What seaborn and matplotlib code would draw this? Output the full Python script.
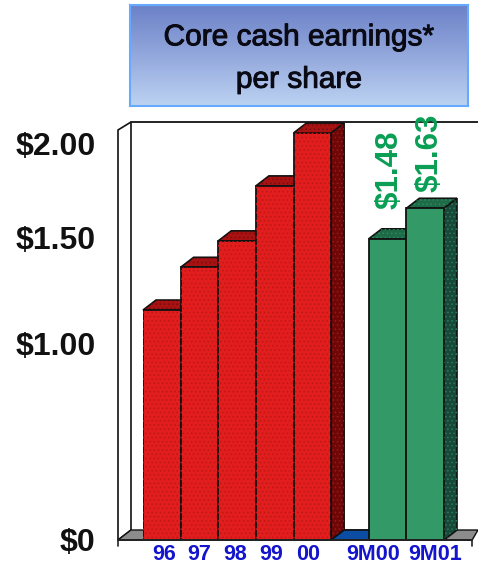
import numpy as np
import pandas as pd
import matplotlib
matplotlib.use("Agg")
import matplotlib.pyplot as plt
import matplotlib.patheffects as pe
from matplotlib.patches import Polygon
from matplotlib.colors import LinearSegmentedColormap
import seaborn as sns

# Data
periods = ["96", "97", "98", "99", "00", " ", "9M00", "9M01"]
earnings = [1.13, 1.34, 1.47, 1.74, 2.00, 0.0, 1.48, 1.63]
tick_labels = ["96", "97", "98", "99", "00", "9M00", "9M01"]
value_labels = ["$1.48", "$1.63"]
value_periods = ["9M00", "9M01"]
axis_labels = ["$0", "$1.00", "$1.50", "$2.00"]

W, H = 478, 570
RED = ("#e21d1d", "#a81212", "#6e0808")
GREEN = ("#339966", "#1e6b48", "#17493a")
BLUE = ("#0a4da3", "#0a4da3", "#0a4da3")
bar_styles = [RED] * 5 + [BLUE] + [GREEN] * 2

# plot area in pixels of the image
X0, X1 = 143, 444
Y0, Y2 = 540, 133
SLOT = (X1 - X0) / len(periods)
UNIT = (Y0 - Y2) / 2.0
DX, DY = 13 / SLOT, 10 / UNIT


def px_x(p):
    return (p - X0) / SLOT - 0.5


def px_y(p):
    return (Y0 - p) / UNIT


sns.set_theme(style="white")
plt.rcParams["font.family"] = ["Liberation Sans", "DejaVu Sans"]
plt.rcParams["hatch.linewidth"] = 0.6

fig = plt.figure(figsize=(W / 100, H / 100), dpi=100)
ax = fig.add_axes([X0 / W, 1 - Y0 / H, (X1 - X0) / W, (Y0 - Y2) / H])

df = pd.DataFrame({"period": periods, "earnings": earnings})
sns.barplot(data=df, x="period", y="earnings", hue="period", order=periods,
            palette=[s[0] for s in bar_styles], width=1.0, saturation=1,
            legend=False, edgecolor="#111111", linewidth=1.3, zorder=4, ax=ax)
ax.set_xlim(-0.5, len(periods) - 0.5)
ax.set_ylim(0, 2.0)
ax.set_xlabel("")
ax.set_ylabel("")
sns.despine(ax=ax, left=True, bottom=True)


def poly(points, face, edge="#111111", lw=1.2, z=2, dots=None):
    ax.add_patch(Polygon(points, closed=True, facecolor=face, edgecolor=edge,
                         linewidth=lw, zorder=z, clip_on=False))
    if dots:
        # dither texture of the source image
        ax.add_patch(Polygon(points, closed=True, facecolor="none", edgecolor=dots,
                             linewidth=0, hatch="....", zorder=z, clip_on=False))


# walls and floor
left, right = px_x(118), px_x(472)
poly([(left, 0), (left + DX, DY), (left + DX, px_y(122)), (left, px_y(130))],
     "white", z=1)
ax.plot([left + DX, px_x(478)], [px_y(122)] * 2, color="#222222", lw=1.4,
        clip_on=False, zorder=1)
poly([(left, 0), (left + DX, DY), (px_x(478), DY), (px_x(478) - DX * 0.45, 0)],
     "#8c8c8c", lw=1.0, z=1)
ax.plot([left, right], [0, 0], color="#222222", lw=1.4, clip_on=False, zorder=5)
ax.plot([left, left], [0, px_y(546)], color="#222222", lw=1.2, clip_on=False, zorder=5)
ax.plot([right, right], [0, px_y(546)], color="#222222", lw=1.2, clip_on=False, zorder=5)

# depth faces taken from the bars seaborn drew
bars = [b for b in ax.patches if isinstance(b, matplotlib.patches.Rectangle)]
bars = sorted(bars, key=lambda b: b.get_x())[:len(periods)]
for bar, style in zip(bars, bar_styles):
    x0, x1, top = bar.get_x(), bar.get_x() + bar.get_width(), bar.get_height()
    is_red = style is RED
    is_green = style is GREEN
    poly([(x0, top), (x0 + DX, top + DY), (x1 + DX, top + DY), (x1, top)], style[1], z=3,
         dots="#7d0c0c" if is_red else ("#2f8a5c" if is_green else None))
    if top > 0:
        poly([(x1, 0), (x1 + DX, DY), (x1 + DX, top + DY), (x1, top)], style[2], z=3,
             dots="#a81414" if is_red else "#2f7a58")
    if is_red:
        ax.add_patch(Polygon([(x0, 0), (x0, top), (x1, top), (x1, 0)], closed=True,
                             facecolor="none", edgecolor="#c01616", linewidth=0,
                             hatch="....", zorder=4.5))

# value labels above the green bars
for name, text, lift, shift in zip(value_periods, value_labels, [30, 16], [2.5, 4]):
    i = periods.index(name)
    ax.annotate(text, (i, earnings[i]), xytext=(shift * 0.72, lift * 0.72),
                textcoords="offset points", rotation=90, ha="center", va="bottom",
                color="#0a9f55", fontsize=22.5, fontweight="bold",
                annotation_clip=False, zorder=6)

# axis labels are printed at their own places in the source chart
ax.set_xticks([px_x(p) for p in [164, 199, 235, 271, 308, 373, 435]], tick_labels)
ax.set_yticks([px_y(p) for p in [540, 344, 238, 144]], axis_labels)
ax.tick_params(axis="x", length=0, pad=3, labelsize=15.5, labelcolor="#1414cc")
ax.tick_params(axis="y", length=0, pad=34, labelsize=23, labelcolor="#111111")
for lab in ax.get_xticklabels() + ax.get_yticklabels():
    lab.set_fontweight("bold")

# title box
tx = fig.add_axes([130 / W, 1 - 106 / H, 338 / W, 101 / H])
cmap = LinearSegmentedColormap.from_list("box", ["#6c82c8", "#93a8dc", "#bcd2f2"])
tx.imshow(np.linspace(0, 1, 64)[:, None], cmap=cmap, aspect="auto", extent=(0, 1, 0, 1))
tx.set_xticks([])
tx.set_yticks([])
for s in tx.spines.values():
    s.set_color("#66aaff")
    s.set_linewidth(1.5)
thick = [pe.withStroke(linewidth=0.7, foreground="#0a0a14")]
tx.text(0.5, 0.68, "Core cash earnings*", ha="center", va="center",
        fontsize=21.5, color="#0a0a14", path_effects=thick)
tx.text(0.5, 0.26, "per share", ha="center", va="center",
        fontsize=21.5, color="#0a0a14", path_effects=thick)

fig.savefig("out.png", dpi=100)
plt.close(fig)
